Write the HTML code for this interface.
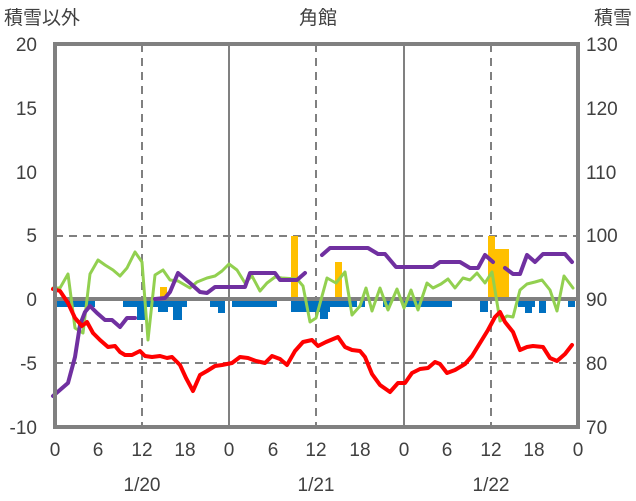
<!DOCTYPE html>
<html><head><meta charset="utf-8"><style>
body{margin:0;background:#fff}
svg{display:block}
text{font-family:"Liberation Sans","Noto Sans CJK JP",sans-serif;fill:#404040;font-size:19px}
</style></head><body>
<svg width="636" height="501" viewBox="0 0 636 501">
<g stroke="#808080" stroke-width="2" stroke-dasharray="8,6" fill="none">
<line x1="55" y1="236" x2="578" y2="236"/>
<line x1="55" y1="363" x2="578" y2="363"/>
<line x1="142" y1="44" x2="142" y2="427"/>
<line x1="316" y1="44" x2="316" y2="427"/>
<line x1="491" y1="44" x2="491" y2="427"/>
</g>
<g stroke="#808080" stroke-width="2">
<line x1="229" y1="44" x2="229" y2="427"/>
<line x1="404" y1="44" x2="404" y2="427"/>
</g>
<g fill="#0070C0">
<rect x="57" y="299" width="38" height="8"/>
<rect x="123" y="299" width="64" height="8"/>
<rect x="137" y="299" width="8" height="21"/>
<rect x="158" y="299" width="10" height="13"/>
<rect x="173" y="299" width="9" height="21"/>
<rect x="210" y="299" width="15" height="8"/>
<rect x="218" y="299" width="7" height="14"/>
<rect x="232" y="299" width="45" height="8"/>
<rect x="291" y="299" width="39" height="13"/>
<rect x="320" y="299" width="8" height="20"/>
<rect x="330" y="299" width="27" height="8"/>
<rect x="360" y="299" width="5" height="8"/>
<rect x="383" y="299" width="8" height="8"/>
<rect x="404" y="299" width="48" height="8"/>
<rect x="480" y="299" width="8" height="13"/>
<rect x="518" y="299" width="17" height="8"/>
<rect x="525" y="299" width="7" height="14"/>
<rect x="539" y="299" width="7" height="14"/>
<rect x="568" y="299" width="7" height="8"/>
</g>
<g fill="#FFC000">
<rect x="160" y="287" width="7" height="12"/>
<rect x="291" y="236" width="7" height="63"/>
<rect x="335" y="262" width="7" height="37"/>
<rect x="488" y="236" width="7" height="63"/>
<rect x="495" y="249" width="14" height="50"/>
</g>
<line x1="55" y1="299" x2="578" y2="299" stroke="#808080" stroke-width="4"/>
<g fill="none" stroke-linejoin="round" stroke-linecap="round">
<polyline stroke="#92D050" stroke-width="3" points="53,288 60,288 68,274 75,328 83,333 90,274 98,260 105,265 113,270 120,276 127,268 135,252 142,262 148,340 155,275 163,270 170,280 178,281 190,288 197,282 207,278 215,276 222,271 229,264 237,270 245,283 252,276 260,291 267,283 275,277 282,278 297,279 303,286 310,322 316,318 327,278 336,283 345,272 352,315 360,306 366,288 372,311 380,288 388,310 397,289 404,308 411,290 418,310 427,283 433,288 441,284 448,279 455,288 463,278 470,280 477,273 485,283 492,272 500,321 507,316 513,317 520,290 527,284 535,282 542,280 550,290 557,311 564,276 573,288"/>
<polyline stroke="#7030A0" stroke-width="4" points="53,396 68,383 75,357 80,325 85,312 90,306 97,313 105,320 112,320 120,327 127,318 135,318"/>
<polyline stroke="#7030A0" stroke-width="4" points="155,299 165,298 170,292 178,273 190,283 200,292 207,293 215,287 245,287 250,273 275,273 280,280 297,280 305,273"/>
<polyline stroke="#7030A0" stroke-width="4" points="322,255 330,248 368,248 378,254 385,254 396,267 433,267 440,262 460,262 470,268 478,268 485,255 493,262"/>
<polyline stroke="#7030A0" stroke-width="4" points="505,268 513,274 520,274 527,255 535,262 543,254 565,254 572,262"/>
<polyline stroke="#FF0000" stroke-width="4" points="53,289 60,291 68,303 75,318 82,326 87,322 93,333 100,340 108,347 115,346 120,352 125,355 132,355 140,351 145,356 152,357 160,356 167,358 172,357 180,365 186,378 193,391 200,375 207,371 215,366 222,365 232,363 240,357 248,358 256,361 265,363 272,356 280,359 287,365 295,351 303,342 312,340 318,346 326,342 338,337 345,347 352,350 360,351 365,357 372,374 380,385 390,392 398,383 405,383 412,373 420,369 428,368 435,362 440,364 447,373 455,370 465,364 472,356 480,343 488,330 495,317 500,312 505,322 513,332 520,350 527,347 533,346 543,347 550,358 557,361 565,354 572,345"/>
</g>
<rect x="55" y="44" width="523" height="383" fill="none" stroke="#808080" stroke-width="4"/>
<text x="4" y="24">積雪以外</text>
<text x="318" y="24" text-anchor="middle">角館</text>
<text x="632" y="24" text-anchor="end">積雪</text>
<g text-anchor="end">
<text x="37" y="51">20</text><text x="37" y="115">15</text><text x="37" y="179">10</text>
<text x="37" y="242">5</text><text x="37" y="306">0</text><text x="37" y="370">-5</text><text x="37" y="434">-10</text>
</g>
<g>
<text x="586" y="51">130</text><text x="586" y="115">120</text><text x="586" y="179">110</text>
<text x="586" y="242">100</text><text x="586" y="306">90</text><text x="586" y="370">80</text><text x="586" y="434">70</text>
</g>
<g text-anchor="middle">
<text x="55" y="456">0</text><text x="98" y="456">6</text><text x="142" y="456">12</text><text x="185" y="456">18</text>
<text x="229" y="456">0</text><text x="273" y="456">6</text><text x="316" y="456">12</text><text x="360" y="456">18</text>
<text x="404" y="456">0</text><text x="447" y="456">6</text><text x="491" y="456">12</text><text x="534" y="456">18</text>
<text x="578" y="456">0</text>
<text x="142" y="491">1/20</text><text x="316" y="491">1/21</text><text x="491" y="491">1/22</text>
</g>
</svg>
</body></html>
